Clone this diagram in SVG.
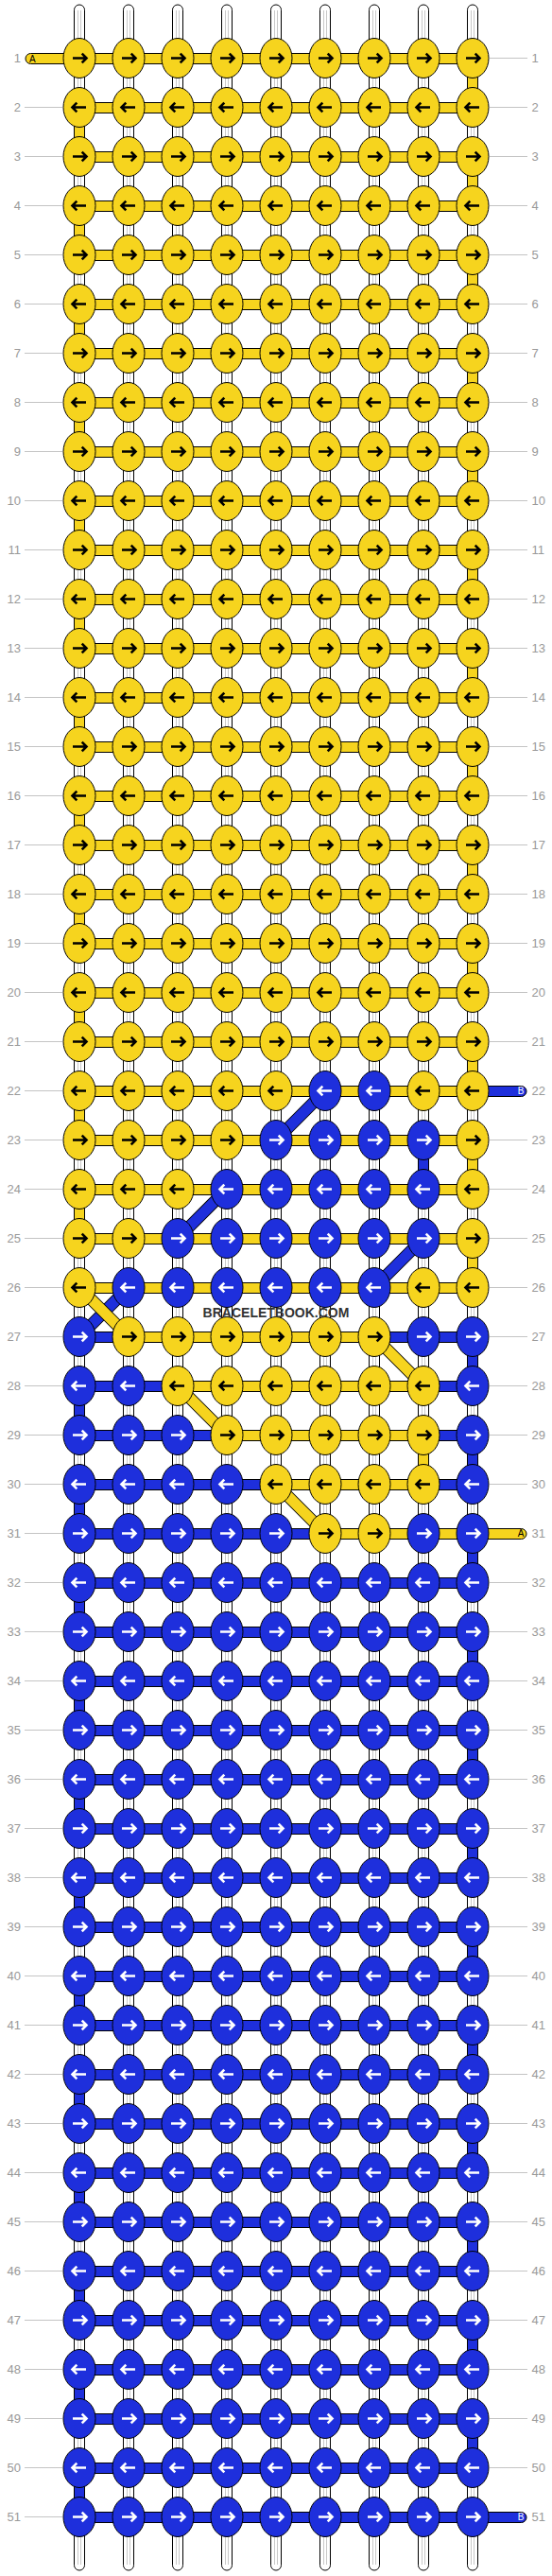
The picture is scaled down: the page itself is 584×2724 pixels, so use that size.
<svg xmlns="http://www.w3.org/2000/svg" xmlns:xlink="http://www.w3.org/1999/xlink" width="584" height="2724" viewBox="0 0 584 2724">
<style>
.ey{fill:#f6d41e;stroke:#000;stroke-width:1}
.eb{fill:#1e2fdc;stroke:#000;stroke-width:1}
.ak{fill:none;stroke:#000;stroke-width:2.6}
.aw{fill:none;stroke:#fff;stroke-width:2.6}
.st{fill:#fff;stroke:#000;stroke-width:1}
.sl{fill:none;stroke:#c8c8c8;stroke-width:1}
.do{fill:none;stroke:#000;stroke-width:13}
.dy{fill:none;stroke:#f6d41e;stroke-width:11}
.db{fill:none;stroke:#1e2fdc;stroke-width:11}
.lb{font-family:"Liberation Sans",Arial,sans-serif;font-size:13px;fill:#999}
.ll{fill:none;stroke:#c4c4c4;stroke-width:1}
.tg{font-family:"Liberation Sans",Arial,sans-serif;font-size:10px}
.wm{font-family:"Liberation Sans",Arial,sans-serif;font-size:14px;font-weight:bold;fill:#333}
</style>
<defs>
<rect id="HY" x="84" width="416" height="11" class="ey"/>
<rect id="HB" x="84" width="416" height="11" class="eb"/>
<rect id="VY" x="-5.5" width="11" height="17" class="ey"/>
<rect id="VB" x="-5.5" width="11" height="17" class="eb"/>
<g id="YR"><ellipse rx="17" ry="21" class="ey"/><path class="ak" d="M-7,0H6.5M2.7,-4.8L7.5,0L2.7,4.8"/></g>
<g id="YL"><ellipse rx="17" ry="21" class="ey"/><path class="ak" d="M7,0H-6.5M-2.7,-4.8L-7.5,0L-2.7,4.8"/></g>
<g id="BR"><ellipse rx="17" ry="21" class="eb"/><path class="aw" d="M-7,0H6.5M2.7,-4.8L7.5,0L2.7,4.8"/></g>
<g id="BL"><ellipse rx="17" ry="21" class="eb"/><path class="aw" d="M7,0H-6.5M-2.7,-4.8L-7.5,0L-2.7,4.8"/></g>
</defs>
<g id="labels">
<path class="ll" d="M518,61.5H558M26,113.5H66M518,113.5H558M26,165.5H66M518,165.5H558M26,217.5H66M518,217.5H558M26,269.5H66M518,269.5H558M26,321.5H66M518,321.5H558M26,373.5H66M518,373.5H558M26,425.5H66M518,425.5H558M26,477.5H66M518,477.5H558M26,529.5H66M518,529.5H558M26,581.5H66M518,581.5H558M26,633.5H66M518,633.5H558M26,685.5H66M518,685.5H558M26,737.5H66M518,737.5H558M26,789.5H66M518,789.5H558M26,841.5H66M518,841.5H558M26,893.5H66M518,893.5H558M26,945.5H66M518,945.5H558M26,997.5H66M518,997.5H558M26,1049.5H66M518,1049.5H558M26,1101.5H66M518,1101.5H558M26,1153.5H66M26,1205.5H66M518,1205.5H558M26,1257.5H66M518,1257.5H558M26,1309.5H66M518,1309.5H558M26,1361.5H66M518,1361.5H558M26,1413.5H66M518,1413.5H558M26,1465.5H66M518,1465.5H558M26,1517.5H66M518,1517.5H558M26,1569.5H66M518,1569.5H558M26,1621.5H66M26,1673.5H66M518,1673.5H558M26,1725.5H66M518,1725.5H558M26,1777.5H66M518,1777.5H558M26,1829.5H66M518,1829.5H558M26,1881.5H66M518,1881.5H558M26,1933.5H66M518,1933.5H558M26,1985.5H66M518,1985.5H558M26,2037.5H66M518,2037.5H558M26,2089.5H66M518,2089.5H558M26,2141.5H66M518,2141.5H558M26,2193.5H66M518,2193.5H558M26,2245.5H66M518,2245.5H558M26,2297.5H66M518,2297.5H558M26,2349.5H66M518,2349.5H558M26,2401.5H66M518,2401.5H558M26,2453.5H66M518,2453.5H558M26,2505.5H66M518,2505.5H558M26,2557.5H66M518,2557.5H558M26,2609.5H66M518,2609.5H558M26,2661.5H66"/>
<g class="lb" text-anchor="end">
<text x="22" y="66">1</text><text x="22" y="118">2</text><text x="22" y="170">3</text><text x="22" y="222">4</text><text x="22" y="274">5</text><text x="22" y="326">6</text><text x="22" y="378">7</text><text x="22" y="430">8</text><text x="22" y="482">9</text><text x="22" y="534">10</text><text x="22" y="586">11</text><text x="22" y="638">12</text><text x="22" y="690">13</text><text x="22" y="742">14</text><text x="22" y="794">15</text><text x="22" y="846">16</text><text x="22" y="898">17</text><text x="22" y="950">18</text><text x="22" y="1002">19</text><text x="22" y="1054">20</text><text x="22" y="1106">21</text><text x="22" y="1158">22</text><text x="22" y="1210">23</text><text x="22" y="1262">24</text><text x="22" y="1314">25</text><text x="22" y="1366">26</text><text x="22" y="1418">27</text><text x="22" y="1470">28</text><text x="22" y="1522">29</text><text x="22" y="1574">30</text><text x="22" y="1626">31</text><text x="22" y="1678">32</text><text x="22" y="1730">33</text><text x="22" y="1782">34</text><text x="22" y="1834">35</text><text x="22" y="1886">36</text><text x="22" y="1938">37</text><text x="22" y="1990">38</text><text x="22" y="2042">39</text><text x="22" y="2094">40</text><text x="22" y="2146">41</text><text x="22" y="2198">42</text><text x="22" y="2250">43</text><text x="22" y="2302">44</text><text x="22" y="2354">45</text><text x="22" y="2406">46</text><text x="22" y="2458">47</text><text x="22" y="2510">48</text><text x="22" y="2562">49</text><text x="22" y="2614">50</text><text x="22" y="2666">51</text>
</g>
<g class="lb">
<text x="562.5" y="66">1</text><text x="562.5" y="118">2</text><text x="562.5" y="170">3</text><text x="562.5" y="222">4</text><text x="562.5" y="274">5</text><text x="562.5" y="326">6</text><text x="562.5" y="378">7</text><text x="562.5" y="430">8</text><text x="562.5" y="482">9</text><text x="562.5" y="534">10</text><text x="562.5" y="586">11</text><text x="562.5" y="638">12</text><text x="562.5" y="690">13</text><text x="562.5" y="742">14</text><text x="562.5" y="794">15</text><text x="562.5" y="846">16</text><text x="562.5" y="898">17</text><text x="562.5" y="950">18</text><text x="562.5" y="1002">19</text><text x="562.5" y="1054">20</text><text x="562.5" y="1106">21</text><text x="562.5" y="1158">22</text><text x="562.5" y="1210">23</text><text x="562.5" y="1262">24</text><text x="562.5" y="1314">25</text><text x="562.5" y="1366">26</text><text x="562.5" y="1418">27</text><text x="562.5" y="1470">28</text><text x="562.5" y="1522">29</text><text x="562.5" y="1574">30</text><text x="562.5" y="1626">31</text><text x="562.5" y="1678">32</text><text x="562.5" y="1730">33</text><text x="562.5" y="1782">34</text><text x="562.5" y="1834">35</text><text x="562.5" y="1886">36</text><text x="562.5" y="1938">37</text><text x="562.5" y="1990">38</text><text x="562.5" y="2042">39</text><text x="562.5" y="2094">40</text><text x="562.5" y="2146">41</text><text x="562.5" y="2198">42</text><text x="562.5" y="2250">43</text><text x="562.5" y="2302">44</text><text x="562.5" y="2354">45</text><text x="562.5" y="2406">46</text><text x="562.5" y="2458">47</text><text x="562.5" y="2510">48</text><text x="562.5" y="2562">49</text><text x="562.5" y="2614">50</text><text x="562.5" y="2666">51</text>
</g>
</g>
<g id="connectors">
<g id="strands">
<rect x="78.5" y="5" width="11" height="2713" rx="5.5" class="st"/><rect x="130.5" y="5" width="11" height="2713" rx="5.5" class="st"/><rect x="182.5" y="5" width="11" height="2713" rx="5.5" class="st"/><rect x="234.5" y="5" width="11" height="2713" rx="5.5" class="st"/><rect x="286.5" y="5" width="11" height="2713" rx="5.5" class="st"/><rect x="338.5" y="5" width="11" height="2713" rx="5.5" class="st"/><rect x="390.5" y="5" width="11" height="2713" rx="5.5" class="st"/><rect x="442.5" y="5" width="11" height="2713" rx="5.5" class="st"/><rect x="494.5" y="5" width="11" height="2713" rx="5.5" class="st"/>
<path class="sl" d="M82.5,11V2712M85.5,11V2712M134.5,11V2712M137.5,11V2712M186.5,11V2712M189.5,11V2712M238.5,11V2712M241.5,11V2712M290.5,11V2712M293.5,11V2712M342.5,11V2712M345.5,11V2712M394.5,11V2712M397.5,11V2712M446.5,11V2712M449.5,11V2712M498.5,11V2712M501.5,11V2712"/>
</g>
<g id="rows">
<rect x="27" y="56.5" width="473" height="11" rx="5.5" class="ey"/>
<use href="#HY" y="108.5"/><use href="#HY" y="160.5"/><use href="#HY" y="212.5"/><use href="#HY" y="264.5"/><use href="#HY" y="316.5"/><use href="#HY" y="368.5"/><use href="#HY" y="420.5"/><use href="#HY" y="472.5"/><use href="#HY" y="524.5"/><use href="#HY" y="576.5"/><use href="#HY" y="628.5"/><use href="#HY" y="680.5"/><use href="#HY" y="732.5"/><use href="#HY" y="784.5"/><use href="#HY" y="836.5"/><use href="#HY" y="888.5"/><use href="#HY" y="940.5"/><use href="#HY" y="992.5"/><use href="#HY" y="1044.5"/><use href="#HY" y="1096.5"/>
<rect x="490" y="1148.5" width="67" height="11" rx="5.5" class="eb"/>
<use href="#HY" y="1148.5"/><use href="#HY" y="1200.5"/><use href="#HY" y="1252.5"/><use href="#HY" y="1304.5"/><use href="#HY" y="1356.5"/>
<rect x="84" y="1408.5" width="52" height="11" class="eb"/><rect x="396" y="1408.5" width="104" height="11" class="eb"/><rect x="136" y="1408.5" width="260" height="11" class="ey"/>
<rect x="84" y="1460.5" width="104" height="11" class="eb"/><rect x="448" y="1460.5" width="52" height="11" class="eb"/><rect x="188" y="1460.5" width="260" height="11" class="ey"/>
<rect x="84" y="1512.5" width="156" height="11" class="eb"/><rect x="448" y="1512.5" width="52" height="11" class="eb"/><rect x="240" y="1512.5" width="208" height="11" class="ey"/>
<rect x="84" y="1564.5" width="208" height="11" class="eb"/><rect x="448" y="1564.5" width="52" height="11" class="eb"/><rect x="292" y="1564.5" width="156" height="11" class="ey"/>
<rect x="84" y="1616.5" width="260" height="11" class="eb"/><rect x="344" y="1616.5" width="213" height="11" rx="5.5" class="ey"/>
<use href="#HB" y="1668.5"/><use href="#HB" y="1720.5"/><use href="#HB" y="1772.5"/><use href="#HB" y="1824.5"/><use href="#HB" y="1876.5"/><use href="#HB" y="1928.5"/><use href="#HB" y="1980.5"/><use href="#HB" y="2032.5"/><use href="#HB" y="2084.5"/><use href="#HB" y="2136.5"/><use href="#HB" y="2188.5"/><use href="#HB" y="2240.5"/><use href="#HB" y="2292.5"/><use href="#HB" y="2344.5"/><use href="#HB" y="2396.5"/><use href="#HB" y="2448.5"/><use href="#HB" y="2500.5"/><use href="#HB" y="2552.5"/><use href="#HB" y="2604.5"/>
<rect x="84" y="2656.5" width="473" height="11" rx="5.5" class="eb"/>
</g>
<g id="verticals">
<use href="#VY" x="500" y="79"/><use href="#VY" x="84" y="131"/><use href="#VY" x="500" y="183"/><use href="#VY" x="84" y="235"/><use href="#VY" x="500" y="287"/><use href="#VY" x="84" y="339"/><use href="#VY" x="500" y="391"/><use href="#VY" x="84" y="443"/><use href="#VY" x="500" y="495"/><use href="#VY" x="84" y="547"/><use href="#VY" x="500" y="599"/><use href="#VY" x="84" y="651"/><use href="#VY" x="500" y="703"/><use href="#VY" x="84" y="755"/><use href="#VY" x="500" y="807"/><use href="#VY" x="84" y="859"/><use href="#VY" x="500" y="911"/><use href="#VY" x="84" y="963"/><use href="#VY" x="500" y="1015"/><use href="#VY" x="84" y="1067"/><use href="#VY" x="500" y="1119"/>
<use href="#VY" x="84" y="1171"/>
<use href="#VY" x="500" y="1223"/><use href="#VB" x="448" y="1223"/>
<use href="#VY" x="84" y="1275"/>
<use href="#VY" x="500" y="1327"/>
<use href="#VB" x="500" y="1431"/>
<use href="#VB" x="84" y="1483"/>
<use href="#VB" x="500" y="1535"/><use href="#VY" x="448" y="1535"/>
<use href="#VB" x="84" y="1587"/>
<use href="#VB" x="500" y="1639"/><use href="#VB" x="84" y="1691"/><use href="#VB" x="500" y="1743"/><use href="#VB" x="84" y="1795"/><use href="#VB" x="500" y="1847"/><use href="#VB" x="84" y="1899"/><use href="#VB" x="500" y="1951"/><use href="#VB" x="84" y="2003"/><use href="#VB" x="500" y="2055"/><use href="#VB" x="84" y="2107"/><use href="#VB" x="500" y="2159"/><use href="#VB" x="84" y="2211"/><use href="#VB" x="500" y="2263"/><use href="#VB" x="84" y="2315"/><use href="#VB" x="500" y="2367"/><use href="#VB" x="84" y="2419"/><use href="#VB" x="500" y="2471"/><use href="#VB" x="84" y="2523"/><use href="#VB" x="500" y="2575"/><use href="#VB" x="84" y="2627"/>
</g>
<g id="diagonals">
<path class="do" d="M344,1153.5L292,1205.5M240,1257.5L188,1309.5M448,1309.5L396,1361.5M136,1361.5L84,1413.5"/>
<path class="db" d="M344,1153.5L292,1205.5M240,1257.5L188,1309.5M448,1309.5L396,1361.5M136,1361.5L84,1413.5"/>
<path class="do" d="M84,1361.5L136,1413.5M396,1413.5L448,1465.5M188,1465.5L240,1517.5M292,1569.5L344,1621.5"/>
<path class="dy" d="M84,1361.5L136,1413.5M396,1413.5L448,1465.5M188,1465.5L240,1517.5M292,1569.5L344,1621.5"/>
</g>
<g id="ends">
<text class="tg" x="31" y="65.5" fill="#000">A</text>
<text class="tg" x="554.5" y="1157" fill="#fff" text-anchor="end">B</text>
<text class="tg" x="554.5" y="1625" fill="#000" text-anchor="end">A</text>
<text class="tg" x="554.5" y="2665" fill="#fff" text-anchor="end">B</text>
</g>
</g>
<g id="nodes">
<g transform="translate(0,61.5)"><g id="k1-1"><use href="#YR" x="84"/></g><g id="k1-2"><use href="#YR" x="136"/></g><g id="k1-3"><use href="#YR" x="188"/></g><g id="k1-4"><use href="#YR" x="240"/></g><g id="k1-5"><use href="#YR" x="292"/></g><g id="k1-6"><use href="#YR" x="344"/></g><g id="k1-7"><use href="#YR" x="396"/></g><g id="k1-8"><use href="#YR" x="448"/></g><g id="k1-9"><use href="#YR" x="500"/></g></g>
<g transform="translate(0,113.5)"><g id="k2-1"><use href="#YL" x="84"/></g><g id="k2-2"><use href="#YL" x="136"/></g><g id="k2-3"><use href="#YL" x="188"/></g><g id="k2-4"><use href="#YL" x="240"/></g><g id="k2-5"><use href="#YL" x="292"/></g><g id="k2-6"><use href="#YL" x="344"/></g><g id="k2-7"><use href="#YL" x="396"/></g><g id="k2-8"><use href="#YL" x="448"/></g><g id="k2-9"><use href="#YL" x="500"/></g></g>
<g transform="translate(0,165.5)"><g id="k3-1"><use href="#YR" x="84"/></g><g id="k3-2"><use href="#YR" x="136"/></g><g id="k3-3"><use href="#YR" x="188"/></g><g id="k3-4"><use href="#YR" x="240"/></g><g id="k3-5"><use href="#YR" x="292"/></g><g id="k3-6"><use href="#YR" x="344"/></g><g id="k3-7"><use href="#YR" x="396"/></g><g id="k3-8"><use href="#YR" x="448"/></g><g id="k3-9"><use href="#YR" x="500"/></g></g>
<g transform="translate(0,217.5)"><g id="k4-1"><use href="#YL" x="84"/></g><g id="k4-2"><use href="#YL" x="136"/></g><g id="k4-3"><use href="#YL" x="188"/></g><g id="k4-4"><use href="#YL" x="240"/></g><g id="k4-5"><use href="#YL" x="292"/></g><g id="k4-6"><use href="#YL" x="344"/></g><g id="k4-7"><use href="#YL" x="396"/></g><g id="k4-8"><use href="#YL" x="448"/></g><g id="k4-9"><use href="#YL" x="500"/></g></g>
<g transform="translate(0,269.5)"><g id="k5-1"><use href="#YR" x="84"/></g><g id="k5-2"><use href="#YR" x="136"/></g><g id="k5-3"><use href="#YR" x="188"/></g><g id="k5-4"><use href="#YR" x="240"/></g><g id="k5-5"><use href="#YR" x="292"/></g><g id="k5-6"><use href="#YR" x="344"/></g><g id="k5-7"><use href="#YR" x="396"/></g><g id="k5-8"><use href="#YR" x="448"/></g><g id="k5-9"><use href="#YR" x="500"/></g></g>
<g transform="translate(0,321.5)"><g id="k6-1"><use href="#YL" x="84"/></g><g id="k6-2"><use href="#YL" x="136"/></g><g id="k6-3"><use href="#YL" x="188"/></g><g id="k6-4"><use href="#YL" x="240"/></g><g id="k6-5"><use href="#YL" x="292"/></g><g id="k6-6"><use href="#YL" x="344"/></g><g id="k6-7"><use href="#YL" x="396"/></g><g id="k6-8"><use href="#YL" x="448"/></g><g id="k6-9"><use href="#YL" x="500"/></g></g>
<g transform="translate(0,373.5)"><g id="k7-1"><use href="#YR" x="84"/></g><g id="k7-2"><use href="#YR" x="136"/></g><g id="k7-3"><use href="#YR" x="188"/></g><g id="k7-4"><use href="#YR" x="240"/></g><g id="k7-5"><use href="#YR" x="292"/></g><g id="k7-6"><use href="#YR" x="344"/></g><g id="k7-7"><use href="#YR" x="396"/></g><g id="k7-8"><use href="#YR" x="448"/></g><g id="k7-9"><use href="#YR" x="500"/></g></g>
<g transform="translate(0,425.5)"><g id="k8-1"><use href="#YL" x="84"/></g><g id="k8-2"><use href="#YL" x="136"/></g><g id="k8-3"><use href="#YL" x="188"/></g><g id="k8-4"><use href="#YL" x="240"/></g><g id="k8-5"><use href="#YL" x="292"/></g><g id="k8-6"><use href="#YL" x="344"/></g><g id="k8-7"><use href="#YL" x="396"/></g><g id="k8-8"><use href="#YL" x="448"/></g><g id="k8-9"><use href="#YL" x="500"/></g></g>
<g transform="translate(0,477.5)"><g id="k9-1"><use href="#YR" x="84"/></g><g id="k9-2"><use href="#YR" x="136"/></g><g id="k9-3"><use href="#YR" x="188"/></g><g id="k9-4"><use href="#YR" x="240"/></g><g id="k9-5"><use href="#YR" x="292"/></g><g id="k9-6"><use href="#YR" x="344"/></g><g id="k9-7"><use href="#YR" x="396"/></g><g id="k9-8"><use href="#YR" x="448"/></g><g id="k9-9"><use href="#YR" x="500"/></g></g>
<g transform="translate(0,529.5)"><g id="k10-1"><use href="#YL" x="84"/></g><g id="k10-2"><use href="#YL" x="136"/></g><g id="k10-3"><use href="#YL" x="188"/></g><g id="k10-4"><use href="#YL" x="240"/></g><g id="k10-5"><use href="#YL" x="292"/></g><g id="k10-6"><use href="#YL" x="344"/></g><g id="k10-7"><use href="#YL" x="396"/></g><g id="k10-8"><use href="#YL" x="448"/></g><g id="k10-9"><use href="#YL" x="500"/></g></g>
<g transform="translate(0,581.5)"><g id="k11-1"><use href="#YR" x="84"/></g><g id="k11-2"><use href="#YR" x="136"/></g><g id="k11-3"><use href="#YR" x="188"/></g><g id="k11-4"><use href="#YR" x="240"/></g><g id="k11-5"><use href="#YR" x="292"/></g><g id="k11-6"><use href="#YR" x="344"/></g><g id="k11-7"><use href="#YR" x="396"/></g><g id="k11-8"><use href="#YR" x="448"/></g><g id="k11-9"><use href="#YR" x="500"/></g></g>
<g transform="translate(0,633.5)"><g id="k12-1"><use href="#YL" x="84"/></g><g id="k12-2"><use href="#YL" x="136"/></g><g id="k12-3"><use href="#YL" x="188"/></g><g id="k12-4"><use href="#YL" x="240"/></g><g id="k12-5"><use href="#YL" x="292"/></g><g id="k12-6"><use href="#YL" x="344"/></g><g id="k12-7"><use href="#YL" x="396"/></g><g id="k12-8"><use href="#YL" x="448"/></g><g id="k12-9"><use href="#YL" x="500"/></g></g>
<g transform="translate(0,685.5)"><g id="k13-1"><use href="#YR" x="84"/></g><g id="k13-2"><use href="#YR" x="136"/></g><g id="k13-3"><use href="#YR" x="188"/></g><g id="k13-4"><use href="#YR" x="240"/></g><g id="k13-5"><use href="#YR" x="292"/></g><g id="k13-6"><use href="#YR" x="344"/></g><g id="k13-7"><use href="#YR" x="396"/></g><g id="k13-8"><use href="#YR" x="448"/></g><g id="k13-9"><use href="#YR" x="500"/></g></g>
<g transform="translate(0,737.5)"><g id="k14-1"><use href="#YL" x="84"/></g><g id="k14-2"><use href="#YL" x="136"/></g><g id="k14-3"><use href="#YL" x="188"/></g><g id="k14-4"><use href="#YL" x="240"/></g><g id="k14-5"><use href="#YL" x="292"/></g><g id="k14-6"><use href="#YL" x="344"/></g><g id="k14-7"><use href="#YL" x="396"/></g><g id="k14-8"><use href="#YL" x="448"/></g><g id="k14-9"><use href="#YL" x="500"/></g></g>
<g transform="translate(0,789.5)"><g id="k15-1"><use href="#YR" x="84"/></g><g id="k15-2"><use href="#YR" x="136"/></g><g id="k15-3"><use href="#YR" x="188"/></g><g id="k15-4"><use href="#YR" x="240"/></g><g id="k15-5"><use href="#YR" x="292"/></g><g id="k15-6"><use href="#YR" x="344"/></g><g id="k15-7"><use href="#YR" x="396"/></g><g id="k15-8"><use href="#YR" x="448"/></g><g id="k15-9"><use href="#YR" x="500"/></g></g>
<g transform="translate(0,841.5)"><g id="k16-1"><use href="#YL" x="84"/></g><g id="k16-2"><use href="#YL" x="136"/></g><g id="k16-3"><use href="#YL" x="188"/></g><g id="k16-4"><use href="#YL" x="240"/></g><g id="k16-5"><use href="#YL" x="292"/></g><g id="k16-6"><use href="#YL" x="344"/></g><g id="k16-7"><use href="#YL" x="396"/></g><g id="k16-8"><use href="#YL" x="448"/></g><g id="k16-9"><use href="#YL" x="500"/></g></g>
<g transform="translate(0,893.5)"><g id="k17-1"><use href="#YR" x="84"/></g><g id="k17-2"><use href="#YR" x="136"/></g><g id="k17-3"><use href="#YR" x="188"/></g><g id="k17-4"><use href="#YR" x="240"/></g><g id="k17-5"><use href="#YR" x="292"/></g><g id="k17-6"><use href="#YR" x="344"/></g><g id="k17-7"><use href="#YR" x="396"/></g><g id="k17-8"><use href="#YR" x="448"/></g><g id="k17-9"><use href="#YR" x="500"/></g></g>
<g transform="translate(0,945.5)"><g id="k18-1"><use href="#YL" x="84"/></g><g id="k18-2"><use href="#YL" x="136"/></g><g id="k18-3"><use href="#YL" x="188"/></g><g id="k18-4"><use href="#YL" x="240"/></g><g id="k18-5"><use href="#YL" x="292"/></g><g id="k18-6"><use href="#YL" x="344"/></g><g id="k18-7"><use href="#YL" x="396"/></g><g id="k18-8"><use href="#YL" x="448"/></g><g id="k18-9"><use href="#YL" x="500"/></g></g>
<g transform="translate(0,997.5)"><g id="k19-1"><use href="#YR" x="84"/></g><g id="k19-2"><use href="#YR" x="136"/></g><g id="k19-3"><use href="#YR" x="188"/></g><g id="k19-4"><use href="#YR" x="240"/></g><g id="k19-5"><use href="#YR" x="292"/></g><g id="k19-6"><use href="#YR" x="344"/></g><g id="k19-7"><use href="#YR" x="396"/></g><g id="k19-8"><use href="#YR" x="448"/></g><g id="k19-9"><use href="#YR" x="500"/></g></g>
<g transform="translate(0,1049.5)"><g id="k20-1"><use href="#YL" x="84"/></g><g id="k20-2"><use href="#YL" x="136"/></g><g id="k20-3"><use href="#YL" x="188"/></g><g id="k20-4"><use href="#YL" x="240"/></g><g id="k20-5"><use href="#YL" x="292"/></g><g id="k20-6"><use href="#YL" x="344"/></g><g id="k20-7"><use href="#YL" x="396"/></g><g id="k20-8"><use href="#YL" x="448"/></g><g id="k20-9"><use href="#YL" x="500"/></g></g>
<g transform="translate(0,1101.5)"><g id="k21-1"><use href="#YR" x="84"/></g><g id="k21-2"><use href="#YR" x="136"/></g><g id="k21-3"><use href="#YR" x="188"/></g><g id="k21-4"><use href="#YR" x="240"/></g><g id="k21-5"><use href="#YR" x="292"/></g><g id="k21-6"><use href="#YR" x="344"/></g><g id="k21-7"><use href="#YR" x="396"/></g><g id="k21-8"><use href="#YR" x="448"/></g><g id="k21-9"><use href="#YR" x="500"/></g></g>
<g transform="translate(0,1153.5)"><g id="k22-1"><use href="#YL" x="84"/></g><g id="k22-2"><use href="#YL" x="136"/></g><g id="k22-3"><use href="#YL" x="188"/></g><g id="k22-4"><use href="#YL" x="240"/></g><g id="k22-5"><use href="#YL" x="292"/></g><g id="k22-6"><use href="#BL" x="344"/></g><g id="k22-7"><use href="#BL" x="396"/></g><g id="k22-8"><use href="#YL" x="448"/></g><g id="k22-9"><use href="#YL" x="500"/></g></g>
<g transform="translate(0,1205.5)"><g id="k23-1"><use href="#YR" x="84"/></g><g id="k23-2"><use href="#YR" x="136"/></g><g id="k23-3"><use href="#YR" x="188"/></g><g id="k23-4"><use href="#YR" x="240"/></g><g id="k23-5"><use href="#BR" x="292"/></g><g id="k23-6"><use href="#BR" x="344"/></g><g id="k23-7"><use href="#BR" x="396"/></g><g id="k23-8"><use href="#BR" x="448"/></g><g id="k23-9"><use href="#YR" x="500"/></g></g>
<g transform="translate(0,1257.5)"><g id="k24-1"><use href="#YL" x="84"/></g><g id="k24-2"><use href="#YL" x="136"/></g><g id="k24-3"><use href="#YL" x="188"/></g><g id="k24-4"><use href="#BL" x="240"/></g><g id="k24-5"><use href="#BL" x="292"/></g><g id="k24-6"><use href="#BL" x="344"/></g><g id="k24-7"><use href="#BL" x="396"/></g><g id="k24-8"><use href="#BL" x="448"/></g><g id="k24-9"><use href="#YL" x="500"/></g></g>
<g transform="translate(0,1309.5)"><g id="k25-1"><use href="#YR" x="84"/></g><g id="k25-2"><use href="#YR" x="136"/></g><g id="k25-3"><use href="#BR" x="188"/></g><g id="k25-4"><use href="#BR" x="240"/></g><g id="k25-5"><use href="#BR" x="292"/></g><g id="k25-6"><use href="#BR" x="344"/></g><g id="k25-7"><use href="#BR" x="396"/></g><g id="k25-8"><use href="#BR" x="448"/></g><g id="k25-9"><use href="#YR" x="500"/></g></g>
<g transform="translate(0,1361.5)"><g id="k26-1"><use href="#YL" x="84"/></g><g id="k26-2"><use href="#BL" x="136"/></g><g id="k26-3"><use href="#BL" x="188"/></g><g id="k26-4"><use href="#BL" x="240"/></g><g id="k26-5"><use href="#BL" x="292"/></g><g id="k26-6"><use href="#BL" x="344"/></g><g id="k26-7"><use href="#BL" x="396"/></g><g id="k26-8"><use href="#YL" x="448"/></g><g id="k26-9"><use href="#YL" x="500"/></g></g>
<g transform="translate(0,1413.5)"><g id="k27-1"><use href="#BR" x="84"/></g><g id="k27-2"><use href="#YR" x="136"/></g><g id="k27-3"><use href="#YR" x="188"/></g><g id="k27-4"><use href="#YR" x="240"/></g><g id="k27-5"><use href="#YR" x="292"/></g><g id="k27-6"><use href="#YR" x="344"/></g><g id="k27-7"><use href="#YR" x="396"/></g><g id="k27-8"><use href="#BR" x="448"/></g><g id="k27-9"><use href="#BR" x="500"/></g></g>
<g transform="translate(0,1465.5)"><g id="k28-1"><use href="#BL" x="84"/></g><g id="k28-2"><use href="#BL" x="136"/></g><g id="k28-3"><use href="#YL" x="188"/></g><g id="k28-4"><use href="#YL" x="240"/></g><g id="k28-5"><use href="#YL" x="292"/></g><g id="k28-6"><use href="#YL" x="344"/></g><g id="k28-7"><use href="#YL" x="396"/></g><g id="k28-8"><use href="#YL" x="448"/></g><g id="k28-9"><use href="#BL" x="500"/></g></g>
<g transform="translate(0,1517.5)"><g id="k29-1"><use href="#BR" x="84"/></g><g id="k29-2"><use href="#BR" x="136"/></g><g id="k29-3"><use href="#BR" x="188"/></g><g id="k29-4"><use href="#YR" x="240"/></g><g id="k29-5"><use href="#YR" x="292"/></g><g id="k29-6"><use href="#YR" x="344"/></g><g id="k29-7"><use href="#YR" x="396"/></g><g id="k29-8"><use href="#YR" x="448"/></g><g id="k29-9"><use href="#BR" x="500"/></g></g>
<g transform="translate(0,1569.5)"><g id="k30-1"><use href="#BL" x="84"/></g><g id="k30-2"><use href="#BL" x="136"/></g><g id="k30-3"><use href="#BL" x="188"/></g><g id="k30-4"><use href="#BL" x="240"/></g><g id="k30-5"><use href="#YL" x="292"/></g><g id="k30-6"><use href="#YL" x="344"/></g><g id="k30-7"><use href="#YL" x="396"/></g><g id="k30-8"><use href="#YL" x="448"/></g><g id="k30-9"><use href="#BL" x="500"/></g></g>
<g transform="translate(0,1621.5)"><g id="k31-1"><use href="#BR" x="84"/></g><g id="k31-2"><use href="#BR" x="136"/></g><g id="k31-3"><use href="#BR" x="188"/></g><g id="k31-4"><use href="#BR" x="240"/></g><g id="k31-5"><use href="#BR" x="292"/></g><g id="k31-6"><use href="#YR" x="344"/></g><g id="k31-7"><use href="#YR" x="396"/></g><g id="k31-8"><use href="#BR" x="448"/></g><g id="k31-9"><use href="#BR" x="500"/></g></g>
<g transform="translate(0,1673.5)"><g id="k32-1"><use href="#BL" x="84"/></g><g id="k32-2"><use href="#BL" x="136"/></g><g id="k32-3"><use href="#BL" x="188"/></g><g id="k32-4"><use href="#BL" x="240"/></g><g id="k32-5"><use href="#BL" x="292"/></g><g id="k32-6"><use href="#BL" x="344"/></g><g id="k32-7"><use href="#BL" x="396"/></g><g id="k32-8"><use href="#BL" x="448"/></g><g id="k32-9"><use href="#BL" x="500"/></g></g>
<g transform="translate(0,1725.5)"><g id="k33-1"><use href="#BR" x="84"/></g><g id="k33-2"><use href="#BR" x="136"/></g><g id="k33-3"><use href="#BR" x="188"/></g><g id="k33-4"><use href="#BR" x="240"/></g><g id="k33-5"><use href="#BR" x="292"/></g><g id="k33-6"><use href="#BR" x="344"/></g><g id="k33-7"><use href="#BR" x="396"/></g><g id="k33-8"><use href="#BR" x="448"/></g><g id="k33-9"><use href="#BR" x="500"/></g></g>
<g transform="translate(0,1777.5)"><g id="k34-1"><use href="#BL" x="84"/></g><g id="k34-2"><use href="#BL" x="136"/></g><g id="k34-3"><use href="#BL" x="188"/></g><g id="k34-4"><use href="#BL" x="240"/></g><g id="k34-5"><use href="#BL" x="292"/></g><g id="k34-6"><use href="#BL" x="344"/></g><g id="k34-7"><use href="#BL" x="396"/></g><g id="k34-8"><use href="#BL" x="448"/></g><g id="k34-9"><use href="#BL" x="500"/></g></g>
<g transform="translate(0,1829.5)"><g id="k35-1"><use href="#BR" x="84"/></g><g id="k35-2"><use href="#BR" x="136"/></g><g id="k35-3"><use href="#BR" x="188"/></g><g id="k35-4"><use href="#BR" x="240"/></g><g id="k35-5"><use href="#BR" x="292"/></g><g id="k35-6"><use href="#BR" x="344"/></g><g id="k35-7"><use href="#BR" x="396"/></g><g id="k35-8"><use href="#BR" x="448"/></g><g id="k35-9"><use href="#BR" x="500"/></g></g>
<g transform="translate(0,1881.5)"><g id="k36-1"><use href="#BL" x="84"/></g><g id="k36-2"><use href="#BL" x="136"/></g><g id="k36-3"><use href="#BL" x="188"/></g><g id="k36-4"><use href="#BL" x="240"/></g><g id="k36-5"><use href="#BL" x="292"/></g><g id="k36-6"><use href="#BL" x="344"/></g><g id="k36-7"><use href="#BL" x="396"/></g><g id="k36-8"><use href="#BL" x="448"/></g><g id="k36-9"><use href="#BL" x="500"/></g></g>
<g transform="translate(0,1933.5)"><g id="k37-1"><use href="#BR" x="84"/></g><g id="k37-2"><use href="#BR" x="136"/></g><g id="k37-3"><use href="#BR" x="188"/></g><g id="k37-4"><use href="#BR" x="240"/></g><g id="k37-5"><use href="#BR" x="292"/></g><g id="k37-6"><use href="#BR" x="344"/></g><g id="k37-7"><use href="#BR" x="396"/></g><g id="k37-8"><use href="#BR" x="448"/></g><g id="k37-9"><use href="#BR" x="500"/></g></g>
<g transform="translate(0,1985.5)"><g id="k38-1"><use href="#BL" x="84"/></g><g id="k38-2"><use href="#BL" x="136"/></g><g id="k38-3"><use href="#BL" x="188"/></g><g id="k38-4"><use href="#BL" x="240"/></g><g id="k38-5"><use href="#BL" x="292"/></g><g id="k38-6"><use href="#BL" x="344"/></g><g id="k38-7"><use href="#BL" x="396"/></g><g id="k38-8"><use href="#BL" x="448"/></g><g id="k38-9"><use href="#BL" x="500"/></g></g>
<g transform="translate(0,2037.5)"><g id="k39-1"><use href="#BR" x="84"/></g><g id="k39-2"><use href="#BR" x="136"/></g><g id="k39-3"><use href="#BR" x="188"/></g><g id="k39-4"><use href="#BR" x="240"/></g><g id="k39-5"><use href="#BR" x="292"/></g><g id="k39-6"><use href="#BR" x="344"/></g><g id="k39-7"><use href="#BR" x="396"/></g><g id="k39-8"><use href="#BR" x="448"/></g><g id="k39-9"><use href="#BR" x="500"/></g></g>
<g transform="translate(0,2089.5)"><g id="k40-1"><use href="#BL" x="84"/></g><g id="k40-2"><use href="#BL" x="136"/></g><g id="k40-3"><use href="#BL" x="188"/></g><g id="k40-4"><use href="#BL" x="240"/></g><g id="k40-5"><use href="#BL" x="292"/></g><g id="k40-6"><use href="#BL" x="344"/></g><g id="k40-7"><use href="#BL" x="396"/></g><g id="k40-8"><use href="#BL" x="448"/></g><g id="k40-9"><use href="#BL" x="500"/></g></g>
<g transform="translate(0,2141.5)"><g id="k41-1"><use href="#BR" x="84"/></g><g id="k41-2"><use href="#BR" x="136"/></g><g id="k41-3"><use href="#BR" x="188"/></g><g id="k41-4"><use href="#BR" x="240"/></g><g id="k41-5"><use href="#BR" x="292"/></g><g id="k41-6"><use href="#BR" x="344"/></g><g id="k41-7"><use href="#BR" x="396"/></g><g id="k41-8"><use href="#BR" x="448"/></g><g id="k41-9"><use href="#BR" x="500"/></g></g>
<g transform="translate(0,2193.5)"><g id="k42-1"><use href="#BL" x="84"/></g><g id="k42-2"><use href="#BL" x="136"/></g><g id="k42-3"><use href="#BL" x="188"/></g><g id="k42-4"><use href="#BL" x="240"/></g><g id="k42-5"><use href="#BL" x="292"/></g><g id="k42-6"><use href="#BL" x="344"/></g><g id="k42-7"><use href="#BL" x="396"/></g><g id="k42-8"><use href="#BL" x="448"/></g><g id="k42-9"><use href="#BL" x="500"/></g></g>
<g transform="translate(0,2245.5)"><g id="k43-1"><use href="#BR" x="84"/></g><g id="k43-2"><use href="#BR" x="136"/></g><g id="k43-3"><use href="#BR" x="188"/></g><g id="k43-4"><use href="#BR" x="240"/></g><g id="k43-5"><use href="#BR" x="292"/></g><g id="k43-6"><use href="#BR" x="344"/></g><g id="k43-7"><use href="#BR" x="396"/></g><g id="k43-8"><use href="#BR" x="448"/></g><g id="k43-9"><use href="#BR" x="500"/></g></g>
<g transform="translate(0,2297.5)"><g id="k44-1"><use href="#BL" x="84"/></g><g id="k44-2"><use href="#BL" x="136"/></g><g id="k44-3"><use href="#BL" x="188"/></g><g id="k44-4"><use href="#BL" x="240"/></g><g id="k44-5"><use href="#BL" x="292"/></g><g id="k44-6"><use href="#BL" x="344"/></g><g id="k44-7"><use href="#BL" x="396"/></g><g id="k44-8"><use href="#BL" x="448"/></g><g id="k44-9"><use href="#BL" x="500"/></g></g>
<g transform="translate(0,2349.5)"><g id="k45-1"><use href="#BR" x="84"/></g><g id="k45-2"><use href="#BR" x="136"/></g><g id="k45-3"><use href="#BR" x="188"/></g><g id="k45-4"><use href="#BR" x="240"/></g><g id="k45-5"><use href="#BR" x="292"/></g><g id="k45-6"><use href="#BR" x="344"/></g><g id="k45-7"><use href="#BR" x="396"/></g><g id="k45-8"><use href="#BR" x="448"/></g><g id="k45-9"><use href="#BR" x="500"/></g></g>
<g transform="translate(0,2401.5)"><g id="k46-1"><use href="#BL" x="84"/></g><g id="k46-2"><use href="#BL" x="136"/></g><g id="k46-3"><use href="#BL" x="188"/></g><g id="k46-4"><use href="#BL" x="240"/></g><g id="k46-5"><use href="#BL" x="292"/></g><g id="k46-6"><use href="#BL" x="344"/></g><g id="k46-7"><use href="#BL" x="396"/></g><g id="k46-8"><use href="#BL" x="448"/></g><g id="k46-9"><use href="#BL" x="500"/></g></g>
<g transform="translate(0,2453.5)"><g id="k47-1"><use href="#BR" x="84"/></g><g id="k47-2"><use href="#BR" x="136"/></g><g id="k47-3"><use href="#BR" x="188"/></g><g id="k47-4"><use href="#BR" x="240"/></g><g id="k47-5"><use href="#BR" x="292"/></g><g id="k47-6"><use href="#BR" x="344"/></g><g id="k47-7"><use href="#BR" x="396"/></g><g id="k47-8"><use href="#BR" x="448"/></g><g id="k47-9"><use href="#BR" x="500"/></g></g>
<g transform="translate(0,2505.5)"><g id="k48-1"><use href="#BL" x="84"/></g><g id="k48-2"><use href="#BL" x="136"/></g><g id="k48-3"><use href="#BL" x="188"/></g><g id="k48-4"><use href="#BL" x="240"/></g><g id="k48-5"><use href="#BL" x="292"/></g><g id="k48-6"><use href="#BL" x="344"/></g><g id="k48-7"><use href="#BL" x="396"/></g><g id="k48-8"><use href="#BL" x="448"/></g><g id="k48-9"><use href="#BL" x="500"/></g></g>
<g transform="translate(0,2557.5)"><g id="k49-1"><use href="#BR" x="84"/></g><g id="k49-2"><use href="#BR" x="136"/></g><g id="k49-3"><use href="#BR" x="188"/></g><g id="k49-4"><use href="#BR" x="240"/></g><g id="k49-5"><use href="#BR" x="292"/></g><g id="k49-6"><use href="#BR" x="344"/></g><g id="k49-7"><use href="#BR" x="396"/></g><g id="k49-8"><use href="#BR" x="448"/></g><g id="k49-9"><use href="#BR" x="500"/></g></g>
<g transform="translate(0,2609.5)"><g id="k50-1"><use href="#BL" x="84"/></g><g id="k50-2"><use href="#BL" x="136"/></g><g id="k50-3"><use href="#BL" x="188"/></g><g id="k50-4"><use href="#BL" x="240"/></g><g id="k50-5"><use href="#BL" x="292"/></g><g id="k50-6"><use href="#BL" x="344"/></g><g id="k50-7"><use href="#BL" x="396"/></g><g id="k50-8"><use href="#BL" x="448"/></g><g id="k50-9"><use href="#BL" x="500"/></g></g>
<g transform="translate(0,2661.5)"><g id="k51-1"><use href="#BR" x="84"/></g><g id="k51-2"><use href="#BR" x="136"/></g><g id="k51-3"><use href="#BR" x="188"/></g><g id="k51-4"><use href="#BR" x="240"/></g><g id="k51-5"><use href="#BR" x="292"/></g><g id="k51-6"><use href="#BR" x="344"/></g><g id="k51-7"><use href="#BR" x="396"/></g><g id="k51-8"><use href="#BR" x="448"/></g><g id="k51-9"><use href="#BR" x="500"/></g></g>
</g>
<text class="wm" x="292" y="1393" text-anchor="middle">BRACELETBOOK.COM</text>
</svg>
